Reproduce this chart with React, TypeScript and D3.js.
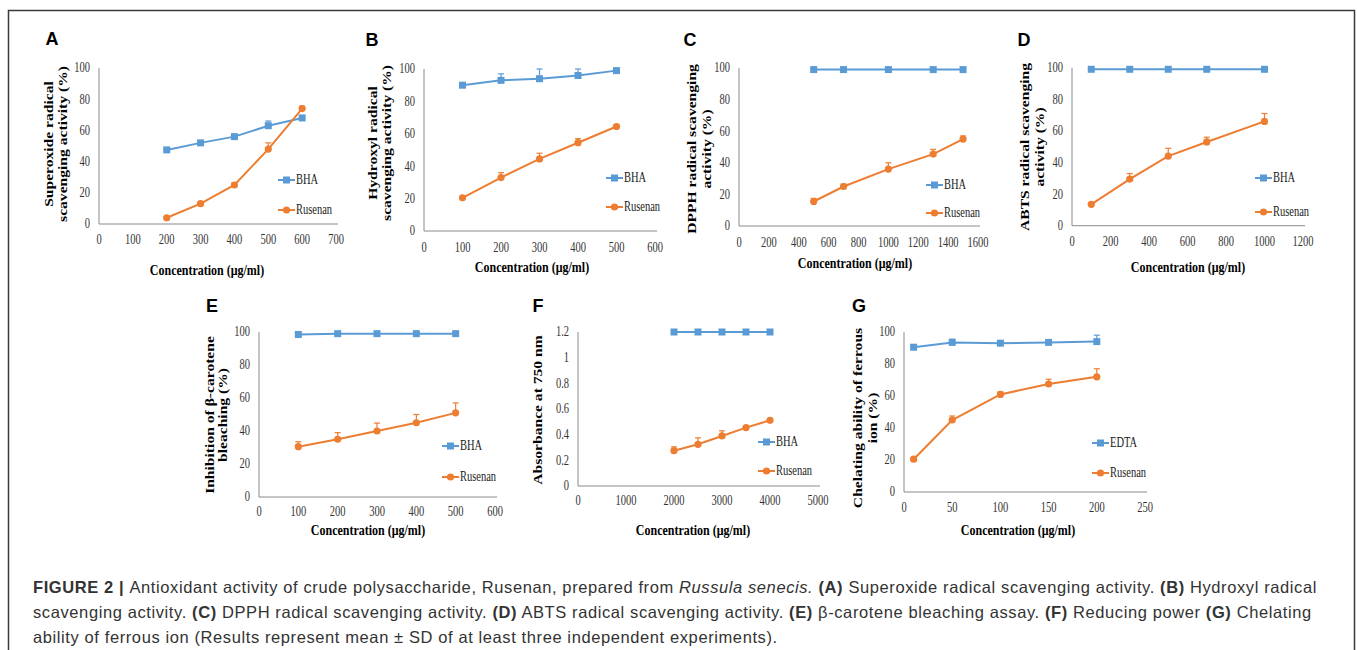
import React from 'react'
import * as d3 from 'd3'

const BLUE = '#5b9bd5'
const ORANGE = '#ed7d31'
const SY = 1.3 // the pasted Excel charts are stretched vertically
const SERIF = '"Liberation Serif", "Times New Roman", serif'
const SANS = '"Liberation Sans", Arial, sans-serif'

// (A) superoxide radical scavenging
const concA = [200, 300, 400, 500, 600]
const bhaA = [47.5, 52, 56, 63, 68]
const bhaErrA = [0.5, 1.5, 1, 3, 1]
const rusA = [4, 13, 25, 48, 74]
const rusErrA = [0.5, 1, 1.5, 4, 1.5]

// (B) hydroxyl radical scavenging
const concB = [100, 200, 300, 400, 500]
const bhaB = [90, 93, 94, 96, 99]
const bhaErrB = [1, 4, 6, 4, 1]
const rusB = [20.5, 33, 44.5, 54.5, 64.5]
const rusErrB = [1, 3, 3.5, 2.5, 1]

// (C) DPPH radical scavenging
const concC = [500, 700, 1000, 1300, 1500]
const bhaC = [99, 99, 99, 99, 99]
const bhaErrC = [0.5, 0.5, 0.5, 0.5, 0.5]
const rusC = [15.5, 25, 36, 45.5, 55]
const rusErrC = [2, 1.5, 4, 3, 2]

// (D) ABTS radical scavenging
const concD = [100, 300, 500, 700, 1000]
const bhaD = [99, 99, 99, 99, 99]
const bhaErrD = [0.5, 0.5, 0.5, 0.5, 0.5]
const rusD = [13.5, 29.5, 44, 53, 66]
const rusErrD = [1, 3.5, 5, 3, 5]

// (E) beta-carotene bleaching
const concE = [100, 200, 300, 400, 500]
const bhaE = [98.5, 99, 99, 99, 99]
const bhaErrE = [0.5, 0.5, 0.5, 0.5, 0.5]
const rusE = [30.5, 35, 40, 45, 51]
const rusErrE = [3, 4, 4.8, 5, 6]

// (F) reducing power
const concF = [2000, 2500, 3000, 3500, 4000]
const bhaF = [1.2, 1.2, 1.2, 1.2, 1.2]
const bhaErrF = [0.005, 0.005, 0.005, 0.005, 0.005]
const rusF = [0.275, 0.325, 0.39, 0.455, 0.512]
const rusErrF = [0.03, 0.05, 0.04, 0.01, 0.01]

// (G) ferrous ion chelating
const concG = [10, 50, 100, 150, 200]
const edtaG = [90.5, 93.5, 93, 93.5, 94]
const edtaErrG = [1, 2, 1, 1, 4]
const rusG = [20.5, 45, 61, 67.5, 72]
const rusErrG = [1, 2.5, 1.5, 3, 5]

const pctTicks = [0, 20, 40, 60, 80, 100]
const absTicks = [0, 0.2, 0.4, 0.6, 0.8, 1, 1.2]
const xTicks700 = [0, 100, 200, 300, 400, 500, 600, 700]
const xTicks600 = [0, 100, 200, 300, 400, 500, 600]
const xTicks1600 = [0, 200, 400, 600, 800, 1000, 1200, 1400, 1600]
const xTicks1200 = [0, 200, 400, 600, 800, 1000, 1200]
const xTicks5000 = [0, 1000, 2000, 3000, 4000, 5000]
const xTicks250 = [0, 50, 100, 150, 200, 250]

const xTitle = 'Concentration (μg/ml)'

const panels = [
  {
    id: 'A', lx: 52, ly: 45, x0: 99, x1: 336, y0: 224, y1: 68, xTicks: xTicks700, yTicks: pctTicks,
    conc: concA, ref: bhaA, refErr: bhaErrA, rus: rusA, rusErr: rusErrA, refName: 'BHA',
    yTitle: ['Superoxide radical', 'scavenging activity (%)'], yTitleX: [49, 63], yTitleY: 144,
    xTickY: 240, xtx: 207, xty: 270, legX: 278, legY: [180, 210]
  },
  {
    id: 'B', lx: 372, ly: 46, x0: 424, x1: 655, y0: 231, y1: 69, xTicks: xTicks600, yTicks: pctTicks,
    conc: concB, ref: bhaB, refErr: bhaErrB, rus: rusB, rusErr: rusErrB, refName: 'BHA',
    yTitle: ['Hydroxyl radical', 'scavenging activity (%)'], yTitleX: [373, 387], yTitleY: 143,
    xTickY: 248, xtx: 532, xty: 267, legX: 606, legY: [178, 207]
  },
  {
    id: 'C', lx: 690, ly: 46, x0: 739, x1: 978, y0: 226, y1: 68, xTicks: xTicks1600, yTicks: pctTicks,
    conc: concC, ref: bhaC, refErr: bhaErrC, rus: rusC, rusErr: rusErrC, refName: 'BHA',
    yTitle: ['DPPH radical scavenging', 'activity (%)'], yTitleX: [692, 707], yTitleY: 149,
    xTickY: 243, xtx: 855, xty: 263, legX: 926, legY: [185, 213]
  },
  {
    id: 'D', lx: 1024, ly: 46, x0: 1072, x1: 1303, y0: 225.7, y1: 67.7, xTicks: xTicks1200, yTicks: pctTicks,
    conc: concD, ref: bhaD, refErr: bhaErrD, rus: rusD, rusErr: rusErrD, refName: 'BHA',
    yTitle: ['ABTS radical scavenging', 'activity (%)'], yTitleX: [1025, 1040], yTitleY: 147,
    xTickY: 242, xtx: 1188, xty: 267, legX: 1255, legY: [178, 212]
  },
  {
    id: 'E', lx: 212, ly: 312, x0: 259, x1: 495, y0: 497, y1: 332, xTicks: xTicks600, yTicks: pctTicks,
    conc: concE, ref: bhaE, refErr: bhaErrE, rus: rusE, rusErr: rusErrE, refName: 'BHA',
    yTitle: ['Inhibition of β-carotene', 'bleaching (%)'], yTitleX: [210, 223], yTitleY: 415,
    xTickY: 512, xtx: 368, xty: 530, legX: 442, legY: [446, 477]
  },
  {
    id: 'F', lx: 538, ly: 312, x0: 578, x1: 818, y0: 486, y1: 332, xTicks: xTicks5000, yTicks: absTicks,
    conc: concF, ref: bhaF, refErr: bhaErrF, rus: rusF, rusErr: rusErrF, refName: 'BHA',
    yTitle: ['Absorbance at 750 nm'], yTitleX: [538], yTitleY: 410,
    xTickY: 501, xtx: 693, xty: 530, legX: 758, legY: [442, 471]
  },
  {
    id: 'G', lx: 859, ly: 312, x0: 904, x1: 1145, y0: 492, y1: 332, xTicks: xTicks250, yTicks: pctTicks,
    conc: concG, ref: edtaG, refErr: edtaErrG, rus: rusG, rusErr: rusErrG, refName: 'EDTA',
    yTitle: ['Chelating ability of ferrous', 'ion (%)'], yTitleX: [858, 873], yTitleY: 418,
    xTickY: 508, xtx: 1018, xty: 530, legX: 1092, legY: [443, 473]
  }
]

type P = typeof panels[number]

function SText (props: { x: number, y: number, anchor?: string, size: number, weight?: string, fill?: string, rotate?: boolean, children: React.ReactNode }) {
  const { x, y, anchor = 'middle', size, weight = 'normal', fill = '#000', rotate, children } = props
  return (
    <text
      transform={`translate(${x},${y}) scale(1,${SY})${rotate ? ' rotate(-90)' : ''}`}
      textAnchor={anchor}
      dominantBaseline='central'
      fontFamily={SERIF}
      fontSize={size}
      fontWeight={weight}
      fill={fill}
    >{children}</text>
  )
}

function Marker ({ x, y, kind }: { x: number, y: number, kind: string }) {
  if (kind === 'square') return <rect x={x - 3.5} y={y - 3.5} width={7} height={7} fill={BLUE} />
  return <circle cx={x} cy={y} r={3.6} fill={ORANGE} />
}

function Panel ({ p }: { p: P }) {
  const xMax = p.xTicks[p.xTicks.length - 1]
  const yMax = p.yTicks[p.yTicks.length - 1]
  const x = d3.scaleLinear().domain([0, xMax]).range([p.x0, p.x1])
  const y = d3.scaleLinear().domain([0, yMax]).range([p.y0, p.y1])
  const line = d3.line<number>().x((d, i) => x(p.conc[i])).y(d => y(d))
  const fmt = (v: number) => String(+v.toFixed(1))

  const series = [
    { vals: p.ref, errs: p.refErr, color: BLUE, kind: 'square', name: p.refName },
    { vals: p.rus, errs: p.rusErr, color: ORANGE, kind: 'circle', name: 'Rusenan' }
  ]

  return (
    <g>
      <text x={p.lx} y={p.ly} textAnchor='middle' fontFamily={SANS} fontWeight='bold' fontSize={18}>{p.id}</text>
      <line x1={p.x0} x2={p.x0} y1={p.y0} y2={p.y1} stroke='#8a8a8a' strokeWidth={1} />
      <line x1={p.x0} x2={p.x1 + 2} y1={p.y0} y2={p.y0} stroke='#8a8a8a' strokeWidth={1} />
      {p.yTicks.map(t => (
        <SText key={'y' + t} x={p.x0 - 9} y={y(t)} anchor='end' size={10.5} fill='#333'>{fmt(t)}</SText>
      ))}
      {p.xTicks.map(t => (
        <SText key={'x' + t} x={x(t)} y={p.xTickY} size={10.5} fill='#333'>{t}</SText>
      ))}
      {series.map(s => (
        <g key={s.name}>
          <path d={line(s.vals) || ''} fill='none' stroke={s.color} strokeWidth={2} />
          {s.vals.map((v, i) => {
            const cx = x(p.conc[i])
            const top = y(v + s.errs[i])
            return (
              <g key={i}>
                <line x1={cx} x2={cx} y1={y(v)} y2={top} stroke={s.color} strokeWidth={1.2} />
                <line x1={cx - 3} x2={cx + 3} y1={top} y2={top} stroke={s.color} strokeWidth={1.2} />
                <Marker x={cx} y={y(v)} kind={s.kind} />
              </g>
            )
          })}
        </g>
      ))}
      {series.map((s, i) => (
        <g key={'leg' + s.name}>
          <line x1={p.legX} x2={p.legX + 17} y1={p.legY[i]} y2={p.legY[i]} stroke={s.color} strokeWidth={2} />
          <Marker x={p.legX + 8.5} y={p.legY[i]} kind={s.kind} />
          <SText x={p.legX + 18} y={p.legY[i]} anchor='start' size={10.5} fill='#222'>{s.name}</SText>
        </g>
      ))}
      {p.yTitle.map((t, i) => (
        <SText key={t} x={p.yTitleX[i]} y={p.yTitleY} size={12} weight='bold' rotate>{t}</SText>
      ))}
      <SText x={p.xtx} y={p.xty} size={12} weight='bold'>{xTitle}</SText>
    </g>
  )
}

export default function App () {
  return (
    <svg width={1357} height={650} style={{ position: 'absolute', left: 0, top: 0, background: '#fff' }}>
      <rect x={0} y={0} width={1357} height={650} fill='#fff' />
      <path d='M8.5,660 V10.5 H1354.5 V660' fill='none' stroke='#3a3a3a' strokeWidth={1.5} />
      {panels.map(p => <Panel key={p.id} p={p} />)}
      <g fontFamily={SANS} fontSize={16.5} letterSpacing={0.6} fill='#333'>
        <text x={33} y={593}>
          <tspan fontWeight='bold'>FIGURE 2 | </tspan>
          <tspan>Antioxidant activity of crude polysaccharide, Rusenan, prepared from </tspan>
          <tspan fontStyle='italic'>Russula senecis.</tspan>
          <tspan fontWeight='bold'> (A)</tspan>
          <tspan> Superoxide radical scavenging activity. </tspan>
          <tspan fontWeight='bold'>(B)</tspan>
          <tspan> Hydroxyl radical</tspan>
        </text>
        <text x={33} y={618}>
          <tspan>scavenging activity. </tspan>
          <tspan fontWeight='bold'>(C)</tspan>
          <tspan> DPPH radical scavenging activity. </tspan>
          <tspan fontWeight='bold'>(D)</tspan>
          <tspan> ABTS radical scavenging activity. </tspan>
          <tspan fontWeight='bold'>(E)</tspan>
          <tspan> β-carotene bleaching assay. </tspan>
          <tspan fontWeight='bold'>(F)</tspan>
          <tspan> Reducing power </tspan>
          <tspan fontWeight='bold'>(G)</tspan>
          <tspan> Chelating</tspan>
        </text>
        <text x={33} y={643}>
          ability of ferrous ion (Results represent mean ± SD of at least three independent experiments).
        </text>
      </g>
    </svg>
  )
}
